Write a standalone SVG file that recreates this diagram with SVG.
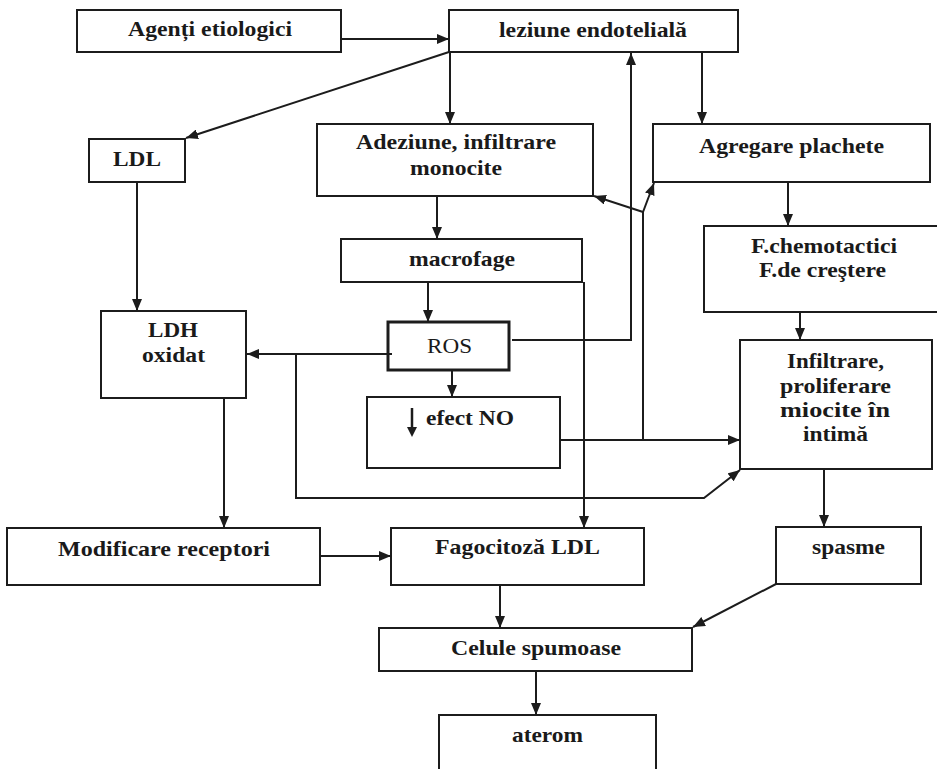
<svg xmlns="http://www.w3.org/2000/svg" width="937" height="769" viewBox="0 0 937 769">
  <defs>
    <style>
      .box { fill: #ffffff; stroke: #1c1c1c; stroke-width: 2; }
      .box.thick { stroke-width: 3; }
      .lbl { font-family: "Liberation Serif", "Times New Roman", serif; font-weight: bold; font-size: 21px; fill: #1a1a1a; }
      .reg { font-family: "Liberation Serif", "Times New Roman", serif; font-size: 22px; fill: #1a1a1a; }
      .edge { fill: none; stroke: #1c1c1c; stroke-width: 2; }
      .arr { marker-end: url(#head); }
    </style>
    <marker id="head" markerUnits="userSpaceOnUse" markerWidth="12" markerHeight="10" refX="12" refY="5" orient="auto">
      <path d="M0,0 L12,5 L0,10 z" fill="#1c1c1c"/>
    </marker>
  </defs>
  <rect width="937" height="769" fill="#ffffff"/>

  <!-- nodes -->
  <g id="agenti">
    <rect class="box" x="77" y="10" width="264" height="42"/>
    <text class="lbl" x="128" y="36" textLength="164" lengthAdjust="spacingAndGlyphs">Agenți etiologici</text>
  </g>
  <g id="leziune">
    <rect class="box" x="449" y="10" width="289" height="42"/>
    <text class="lbl" x="499" y="37" textLength="188" lengthAdjust="spacingAndGlyphs">leziune endotelială</text>
  </g>
  <g id="ldl">
    <rect class="box" x="89" y="139" width="96" height="43"/>
    <text class="lbl" x="113" y="166" textLength="48" lengthAdjust="spacingAndGlyphs">LDL</text>
  </g>
  <g id="adeziune">
    <rect class="box" x="317" y="124" width="276" height="72"/>
    <text class="lbl" x="356" y="149" textLength="200" lengthAdjust="spacingAndGlyphs">Adeziune, infiltrare</text>
    <text class="lbl" x="410" y="175" textLength="92" lengthAdjust="spacingAndGlyphs">monocite</text>
  </g>
  <g id="agregare">
    <rect class="box" x="653" y="124" width="277" height="58"/>
    <text class="lbl" x="699" y="153" textLength="185" lengthAdjust="spacingAndGlyphs">Agregare plachete</text>
  </g>
  <g id="macrofage">
    <rect class="box" x="341" y="239" width="241" height="43"/>
    <text class="lbl" x="409" y="266" textLength="106" lengthAdjust="spacingAndGlyphs">macrofage</text>
  </g>
  <g id="factori">
    <rect class="box" x="704" y="226" width="240" height="86"/>
    <text class="lbl" x="751" y="253" textLength="146" lengthAdjust="spacingAndGlyphs">F.chemotactici</text>
    <text class="lbl" x="759" y="277" textLength="127" lengthAdjust="spacingAndGlyphs">F.de creştere</text>
  </g>
  <g id="ldh">
    <rect class="box" x="101" y="311" width="145" height="87"/>
    <text class="lbl" x="148" y="337" textLength="50" lengthAdjust="spacingAndGlyphs">LDH</text>
    <text class="lbl" x="142" y="362" textLength="63" lengthAdjust="spacingAndGlyphs">oxidat</text>
  </g>
  <g id="ros">
    <rect class="box thick" x="388" y="322" width="121" height="48"/>
    <text class="reg" x="427" y="353" textLength="45" lengthAdjust="spacingAndGlyphs">ROS</text>
  </g>
  <g id="efect-no">
    <rect class="box" x="367" y="397" width="193" height="71"/>
    <line x1="412" y1="408" x2="412" y2="428" stroke="#1c1c1c" stroke-width="2.5"/>
    <path d="M407,427 L417,427 L412,437 z" fill="#1c1c1c"/>
    <text class="lbl" x="426" y="425" textLength="88" lengthAdjust="spacingAndGlyphs">efect NO</text>
  </g>
  <g id="infiltrare">
    <rect class="box" x="740" y="340" width="192" height="129"/>
    <text class="lbl" x="787" y="368" textLength="97" lengthAdjust="spacingAndGlyphs">Infiltrare,</text>
    <text class="lbl" x="780" y="393" textLength="111" lengthAdjust="spacingAndGlyphs">proliferare</text>
    <text class="lbl" x="780" y="417" textLength="110" lengthAdjust="spacingAndGlyphs">miocite în</text>
    <text class="lbl" x="803" y="441" textLength="65" lengthAdjust="spacingAndGlyphs">intimă</text>
  </g>
  <g id="modificare">
    <rect class="box" x="7" y="528" width="313" height="57"/>
    <text class="lbl" x="58" y="556" textLength="212" lengthAdjust="spacingAndGlyphs">Modificare receptori</text>
  </g>
  <g id="fagocitoza">
    <rect class="box" x="391" y="528" width="253" height="57"/>
    <text class="lbl" x="435" y="554" textLength="165" lengthAdjust="spacingAndGlyphs">Fagocitoză LDL</text>
  </g>
  <g id="spasme">
    <rect class="box" x="776" y="527" width="145" height="57"/>
    <text class="lbl" x="812" y="554" textLength="73" lengthAdjust="spacingAndGlyphs">spasme</text>
  </g>
  <g id="celule">
    <rect class="box" x="379" y="628" width="313" height="43"/>
    <text class="lbl" x="451" y="655" textLength="170" lengthAdjust="spacingAndGlyphs">Celule spumoase</text>
  </g>
  <g id="aterom">
    <rect class="box" x="439" y="715" width="217" height="64"/>
    <text class="lbl" x="512" y="742" textLength="71" lengthAdjust="spacingAndGlyphs">aterom</text>
  </g>

  <!-- connectors -->
  <g id="connectors">
    <path class="edge arr" d="M341,39 L449,39"/>
    <path class="edge arr" d="M449,52 L186,138"/>
    <path class="edge arr" d="M450,52 L450,124"/>
    <path class="edge arr" d="M702,52 L702,124"/>
    <path class="edge arr" d="M512,340 L631,340 L631,53"/>
    <path class="edge arr" d="M560,440 L740,440"/>
    <path class="edge" d="M643,440 L643,212"/>
    <path class="edge arr" d="M643,212 L594,196"/>
    <path class="edge arr" d="M643,212 L654,183"/>
    <path class="edge arr" d="M437,196 L437,239"/>
    <path class="edge arr" d="M788,182 L788,226"/>
    <path class="edge arr" d="M428,282 L428,322"/>
    <path class="edge arr" d="M584,282 L584,528"/>
    <path class="edge arr" d="M800,312 L800,340"/>
    <path class="edge arr" d="M392,354 L247,354"/>
    <path class="edge arr" d="M296,354 L296,498 L704,498 L740,470"/>
    <path class="edge arr" d="M452,370 L452,397"/>
    <path class="edge arr" d="M137,182 L137,311"/>
    <path class="edge arr" d="M224,398 L224,528"/>
    <path class="edge arr" d="M320,556 L391,556"/>
    <path class="edge arr" d="M824,469 L824,527"/>
    <path class="edge arr" d="M500,585 L500,628"/>
    <path class="edge arr" d="M776,584 L693,627"/>
    <path class="edge arr" d="M536,671 L536,715"/>
  </g>
</svg>
